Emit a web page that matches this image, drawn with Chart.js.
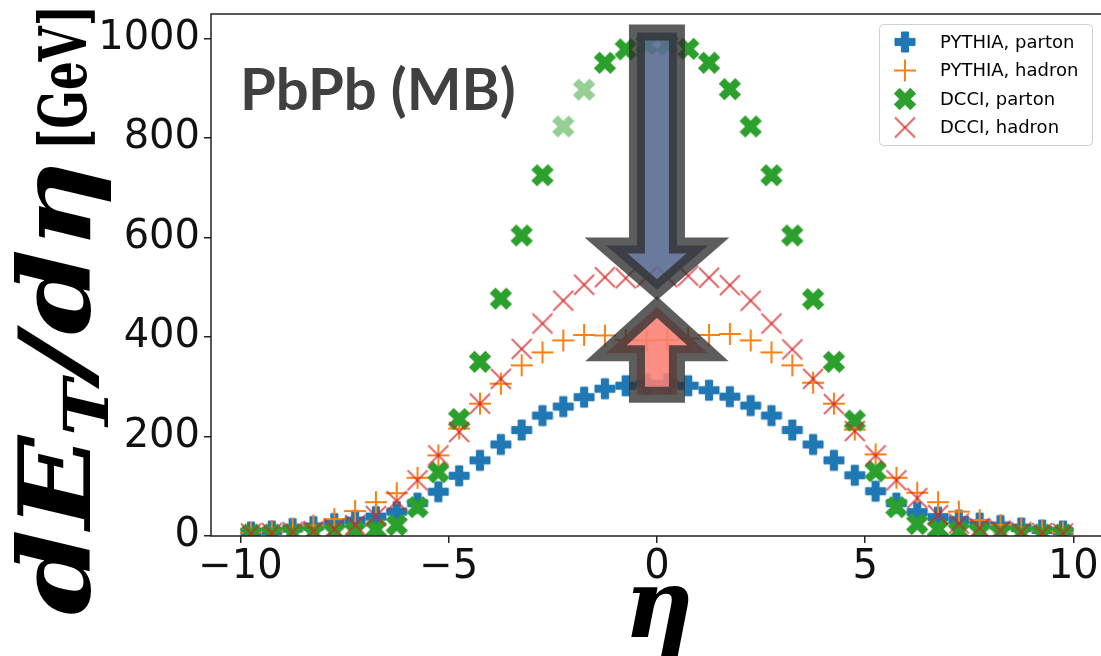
<!DOCTYPE html>
<html>
<head>
<meta charset="utf-8">
<script src="https://cdn.jsdelivr.net/npm/chart.js@4.4.1/dist/chart.umd.min.js"></script>
<style>
html,body{margin:0;padding:0;background:#fff;overflow:hidden;width:1101px;height:656px}
#caixa{width:1101px;height:656px;overflow:hidden}
</style>
</head>
<body>
<div id="caixa"><canvas id="grafico" width="1130" height="656"></canvas></div>
<script>

// eta bins
let eta = [-9.75,-9.25,-8.75,-8.25,-7.75,-7.25,-6.75,-6.25,-5.75,-5.25,-4.75,-4.25,-3.75,-3.25,-2.75,-2.25,-1.75,-1.25,-0.75,-0.25,
0.25,0.75,1.25,1.75,2.25,2.75,3.25,3.75,4.25,4.75,5.25,5.75,6.25,6.75,7.25,7.75,8.25,8.75,9.25,9.75]

let pythiaParton = [8,10,15,19,25,31,39,49,66,89,121,152,184,213,242,260,279,296,302,306,
306,302,293,280,262,242,213,184,152,122,90,66,48,38,32,26,21,16,12,10]

let pythiaHadron = [7,10,14,21,34,50,68,86,117,162,216,266,306,343,369,393,404,403,394,393,
394,397,404,406,393,369,343,308,266,214,164,117,87,68,49,32,22,15,10,7]

let dcciParton = [3,3,4,5,7,9,13,22,58,128,235,350,477,604,725,823,897,951,978,988,
988,979,951,898,823,725,604,476,350,232,130,58,24,14,9,7,5,4,3,3]

let dcciHadron = [5,6,8,10,14,22,40,70,112,162,209,266,316,376,427,473,505,520,518,520,
520,523,519,504,473,427,375,316,265,211,162,112,76,42,25,16,11,8,6,5]

let labels = ["PYTHIA, parton","PYTHIA, hadron","DCCI, parton","DCCI, hadron"]
let xTicks = [-10,-5,0,5,10]
let yTicks = [0,200,400,600,800,1000]
let fadedEta = [-2.25,-1.75]

// setas (anotacao), em unidades dos eixos
let setaBaixo = {eta:0, topo:1012, base:584, ponta:495}
let setaCima = {eta:0, ponta:460, base:367, fim:284}

function pares(ys){
return eta.map((x,i)=>({x:x,y:ys[i]}))
}

function marcador(tipo,cor){
let c = document.createElement("canvas")
c.width = 28
c.height = 28
let g = c.getContext("2d")
g.translate(14,14)
if(tipo=="P" || tipo=="X"){
if(tipo=="X") g.rotate(Math.PI/4)
let L = tipo=="P" ? 10 : 11.2
let w = 3.6
g.fillStyle = cor
g.strokeStyle = cor
g.lineWidth = 1
g.lineJoin = "round"
g.beginPath()
g.moveTo(-w,-L);g.lineTo(w,-L);g.lineTo(w,-w);g.lineTo(L,-w);g.lineTo(L,w);g.lineTo(w,w)
g.lineTo(w,L);g.lineTo(-w,L);g.lineTo(-w,w);g.lineTo(-L,w);g.lineTo(-L,-w);g.lineTo(-w,-w)
g.closePath()
g.fill()
g.stroke()
}
if(tipo=="+"){
g.strokeStyle = cor
g.lineWidth = 2
g.beginPath();g.moveTo(-11,0);g.lineTo(11,0);g.stroke()
g.beginPath();g.moveTo(0,-11);g.lineTo(0,11);g.stroke()
}
if(tipo=="x"){
g.strokeStyle = cor
g.lineWidth = 2
g.beginPath();g.moveTo(-10,-10);g.lineTo(10,10);g.stroke()
g.beginPath();g.moveTo(-10,10);g.lineTo(10,-10);g.stroke()
}
return c
}

let imgAzul = marcador("P","#1f77b4")
let imgLaranja = marcador("+","#ff7f0e")
let imgVerde = marcador("X","#2ca02c")
let imgVerdeClaro = marcador("X","#95cf95")
let imgVermelho = marcador("x","rgba(214,39,40,0.72)")

// moldura do grafico (lado direito fica fora da imagem)
let moldura = {
id:"moldura",
afterDatasetsDraw(chart){
let {ctx,chartArea:a} = chart
ctx.save()
ctx.strokeStyle = "#222"
ctx.lineWidth = 1.5
ctx.strokeRect(a.left,a.top,a.right-a.left,a.bottom-a.top)
ctx.restore()
}
}

function desenhaSeta(ctx,pts,cor){
ctx.save()
ctx.beginPath()
ctx.moveTo(pts[0][0],pts[0][1])
for(let i=1;i<pts.length;i++) ctx.lineTo(pts[i][0],pts[i][1])
ctx.closePath()
ctx.fillStyle = cor
ctx.fill()
ctx.lineWidth = 16
ctx.lineJoin = "miter"
ctx.miterLimit = 10
ctx.strokeStyle = "rgba(48,48,48,0.78)"
ctx.stroke()
ctx.restore()
}

let setas = {
id:"setas",
afterDatasetsDraw(chart){
let ctx = chart.ctx
let sx = chart.scales.x, sy = chart.scales.y
let w = 20, W = 51
let cx = sx.getPixelForValue(setaBaixo.eta)
let t = sy.getPixelForValue(setaBaixo.topo)
let b = sy.getPixelForValue(setaBaixo.base)
let p = sy.getPixelForValue(setaBaixo.ponta)
desenhaSeta(ctx,[[cx-w,t],[cx+w,t],[cx+w,b],[cx+W,b],[cx,p],[cx-W,b],[cx-w,b]],"rgba(90,108,145,0.9)")
cx = sx.getPixelForValue(setaCima.eta)
p = sy.getPixelForValue(setaCima.ponta)
b = sy.getPixelForValue(setaCima.base)
let f = sy.getPixelForValue(setaCima.fim)
desenhaSeta(ctx,[[cx-w,f],[cx+w,f],[cx+w,b],[cx+W,b],[cx,p],[cx-W,b],[cx-w,b]],"rgba(250,128,114,0.88)")
}
}

let legenda = {
id:"legenda",
afterDraw(chart){
let ctx = chart.ctx
ctx.save()
ctx.beginPath()
ctx.roundRect(879.5,24.5,213,121,4)
ctx.fillStyle = "rgba(255,255,255,0.8)"
ctx.fill()
ctx.strokeStyle = "#d0d0d0"
ctx.lineWidth = 1
ctx.stroke()
ctx.font = "18px 'DejaVu Sans'"
ctx.fillStyle = "#000"
ctx.textBaseline = "middle"
chart.data.datasets.forEach((d,i)=>{
let y = 42 + i*28.5
let img = d.legendImg
ctx.drawImage(img,905-img.width/2,y-img.height/2)
ctx.fillText(d.label,940,y+1)
})
ctx.restore()
}
}

let textos = {
id:"textos",
afterDraw(chart){
let ctx = chart.ctx
ctx.save()
// PbPb (MB)
ctx.font = "bold 58px Lato"
ctx.fillStyle = "#404040"
ctx.textBaseline = "alphabetic"
ctx.fillText("PbPb (MB)",240,110)

// eta
ctx.fillStyle = "#000"
ctx.font = "italic bold 96px 'DejaVu Serif'"
ctx.textAlign = "center"
ctx.fillText("\u03b7",659,637)
ctx.textAlign = "left"

// titulo do eixo y, rodado
ctx.translate(90,615)
ctx.rotate(-Math.PI/2)
let F = 100
let pecas = [["d",F,0],["E",F,0],["T",F*0.62,F*0.18],["/",F,0],["d",F,0],["\u03b7",F,0]]
let L = 0
pecas.forEach(p=>{ctx.font = "italic bold "+p[1]+"px 'DejaVu Serif'"; L += ctx.measureText(p[0]).width})
ctx.save()
ctx.scale(455/L,1)
let x = 0
pecas.forEach(p=>{
ctx.font = "italic bold "+p[1]+"px 'DejaVu Serif'"
ctx.fillText(p[0],x,p[2])
x += ctx.measureText(p[0]).width
})
ctx.restore()
ctx.font = "bold 66px 'DejaVu Serif'"
let Lg = ctx.measureText("[GeV]").width
ctx.save()
ctx.translate(465,-4)
ctx.scale(145/Lg,1)
ctx.fillText("[GeV]",0,0)
ctx.restore()
ctx.restore()
}
}

let ctx = document.getElementById("grafico").getContext("2d")

let grafico = new Chart(ctx,{
type:"scatter",
data:{
datasets:[
{label:labels[0],data:pares(pythiaParton),pointStyle:imgAzul,legendImg:imgAzul,order:4},
{label:labels[1],data:pares(pythiaHadron),pointStyle:imgLaranja,legendImg:imgLaranja,order:3},
{label:labels[2],data:pares(dcciParton),legendImg:imgVerde,order:2,
pointStyle:(c)=> c.raw && fadedEta.includes(c.raw.x) ? imgVerdeClaro : imgVerde},
{label:labels[3],data:pares(dcciHadron),pointStyle:imgVermelho,legendImg:imgVermelho,order:1}
]
},
options:{
responsive:false,
animation:false,
events:[],
layout:{autoPadding:false,padding:{top:14,right:15,left:0,bottom:0}},
plugins:{legend:{display:false},tooltip:{enabled:false}},
elements:{point:{radius:10,hoverRadius:10}},
scales:{
x:{
type:"linear",min:-10.71,max:11.0,
afterBuildTicks:(s)=>{s.ticks = xTicks.map(v=>({value:v}))},
afterFit:(s)=>{s.height = 120; s.paddingLeft = 0; s.paddingRight = 0},
grid:{drawOnChartArea:false,drawTicks:true,tickLength:7,color:"#222",lineWidth:1.5},
border:{display:false},
ticks:{font:{family:"DejaVu Sans",size:40},color:"#111",padding:1,maxRotation:0,
callback:(v)=>String(v).replace("-","\u2212")}
},
y:{
type:"linear",min:0,max:1049,
afterBuildTicks:(s)=>{s.ticks = yTicks.map(v=>({value:v}))},
afterFit:(s)=>{s.width = 211; s.paddingTop = 0; s.paddingBottom = 0},
grid:{drawOnChartArea:false,drawTicks:true,tickLength:7,color:"#222",lineWidth:1.5},
border:{display:false},
ticks:{font:{family:"DejaVu Sans",size:40},color:"#111",padding:4,
callback:(v)=>String(v)}
}
}
},
plugins:[moldura,setas,legenda,textos]
})

</script>
</body>
</html>
